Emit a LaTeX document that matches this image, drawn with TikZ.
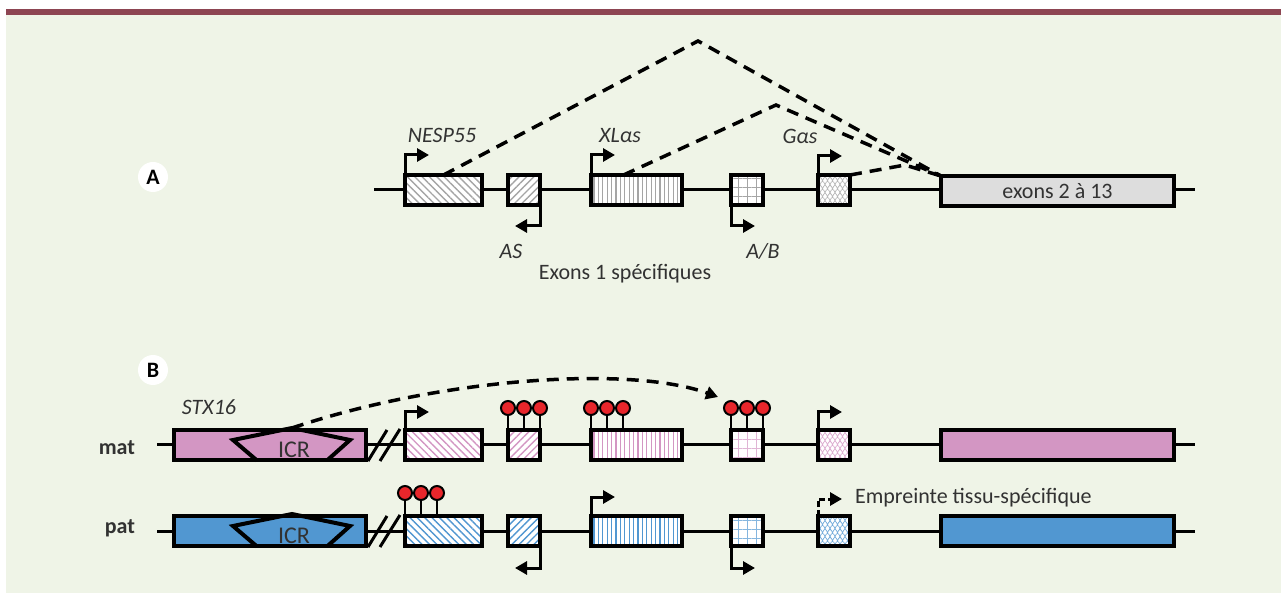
\documentclass[tikz,border=0pt]{standalone}
\usepackage{fontspec}
\setmainfont{Carlito}
\usetikzlibrary{arrows.meta,patterns,patterns.meta}

\definecolor{bggreen}{RGB}{239,244,231}
\definecolor{barred}{RGB}{141,69,82}
\definecolor{matpink}{RGB}{211,150,195}
\definecolor{patblue}{RGB}{81,151,209}
\definecolor{methred}{RGB}{232,38,43}
\definecolor{exgray}{RGB}{221,221,221}
\definecolor{hatchgray}{RGB}{165,165,165}
\definecolor{txt}{RGB}{50,50,50}

\tikzdeclarepattern{
  name=scales,
  type=uncolored,
  bottom left={(-.5pt,-.5pt)},
  top right={(5.5pt,4.5pt)},
  tile size={(5pt,4pt)},
  code={
    \draw[line width=.35pt] (0pt,0pt) .. controls (0.6pt,2.4pt) and (1.9pt,2.4pt) .. (2.5pt,0pt)
      .. controls (3.1pt,2.4pt) and (4.4pt,2.4pt) .. (5pt,0pt);
    \draw[line width=.35pt] (-1.25pt,2pt) .. controls (-0.65pt,4.4pt) and (0.65pt,4.4pt) .. (1.25pt,2pt)
      .. controls (1.85pt,4.4pt) and (3.15pt,4.4pt) .. (3.75pt,2pt)
      .. controls (4.35pt,4.4pt) and (5.65pt,4.4pt) .. (6.25pt,2pt);
  }
}

\begin{document}
\begin{tikzpicture}[x=0.5pt,y=-0.5pt,font=\fontsize{11}{13}\selectfont,
  exon/.style={draw,line width=2pt,inner sep=0pt,outer sep=0pt,minimum height=15pt},
  nespbox/.style={exon,minimum width=38.5pt,preaction={fill=white},pattern={Lines[angle=-45,distance=2.6pt,line width=.7pt]},pattern color=#1},
  asbox/.style={exon,minimum width=16pt,preaction={fill=white},pattern={Lines[angle=45,distance=2.6pt,line width=.7pt]},pattern color=#1},
  xlbox/.style={exon,minimum width=45.5pt,preaction={fill=white},pattern={Lines[angle=90,distance=2.2pt,line width=.6pt]},pattern color=#1},
  abbox/.style={exon,minimum width=16pt,preaction={fill=white},pattern={Hatch[angle=0,distance=4.5pt,line width=.5pt]},pattern color=#1},
  gbox/.style={exon,minimum width=16pt,preaction={fill=white},pattern=scales,pattern color=#1},
  genome/.style={line width=1.5pt},
  prom/.style={line width=1.5pt,-{Triangle[length=6pt,width=6.5pt]}},
  splice/.style={line width=1.75pt,dash pattern=on 6pt off 4pt},
  cpg/.style={circle,draw,line width=1pt,fill=methred,minimum size=7pt,inner sep=0pt},
  stem/.style={line width=1.3pt},
  tag/.style={circle,fill=white,minimum size=15pt,inner sep=0pt,font=\fontsize{11}{13}\bfseries},
  gene/.style={text=txt,font=\fontsize{11}{13}\itshape}]
\useasboundingbox (0,0) rectangle (1281,593);
\fill[white] (0,0) rectangle (1281,593);
\fill[bggreen] (6,9) rectangle (1281,593);
\fill[barred] (6,9) rectangle (1281,15);

% A
\node[tag] (tagA) at (153,177) {A};
\coordinate (a0) at (374,190);
\coordinate (a1) at (1195,190);
\draw[genome] (a0) -- (a1);
\node[nespbox=hatchgray] (nespA) at (443.5,190) {};
\node[asbox=hatchgray]   (asA)   at (524,190) {};
\node[xlbox=hatchgray]   (xlA)   at (636.5,190) {};
\node[abbox=hatchgray]   (abA)   at (747,190) {};
\node[gbox=hatchgray!80] (gA)    at (834,190) {};
\node[exon,minimum width=116.5pt,fill=exgray,text=txt] (exA) at (1057.5,191) {exons 2 à 13};
\draw[prom] (nespA.north west) -- ++(0,-20) -- ++(24,0);
\draw[prom] (asA.south east)   -- ++(0,21)  -- ++(-25,0);
\draw[prom] (xlA.north west)   -- ++(0,-20) -- ++(24,0);
\draw[prom] (abA.south west)   -- ++(0,21)  -- ++(24,0);
\draw[prom] (gA.north west)    -- ++(0,-19) -- ++(24,0);
\node[gene] (nespL) at (442,135) {NESP55};
\node[gene] (xlL)   at (620,136) {XLαs};
\node[gene] (gL)    at (800,136) {Gαs};
\node[gene] (asL)   at (511,251) {AS};
\node[gene] (abL)   at (763,251) {A/B};
\node[text=txt] (firstL) at (625,274) {Exons 1 spécifiques};
\coordinate (peak1) at (698,41);
\coordinate (peak2) at (776,105);
\coordinate (peak3) at (905,165);
\draw[splice] (nespA.north) -- (peak1) -- (exA.north west);
\draw[splice] ([xshift=-6.5pt]xlA.north) -- (peak2) -- (exA.north west);
\draw[splice] (gA.north east) -- (peak3) -- (exA.north west);

% B
\node[tag] (tagB) at (153,370) {B};
\node[gene] (stxL) at (209,407) {STX16};
\node[anchor=base east,font=\fontsize{11}{13}\bfseries,text=txt] (matL) at (142,455) {mat};
\node[anchor=base east,font=\fontsize{11}{13}\bfseries,text=txt] (patL) at (142,533) {pat};
\coordinate (m0) at (157,445);
\coordinate (m1) at (1195,445);
\coordinate (p0) at (157,531);
\coordinate (p1) at (1195,531);
\draw[genome] (m0) -- (m1);
\draw[genome] (p0) -- (p1);

\node[exon,minimum width=96pt,fill=matpink] (stxM) at (270,445) {};
\node[nespbox=matpink] (nespM) at (443.5,445) {};
\node[asbox=matpink]   (asM)   at (524,445) {};
\node[xlbox=matpink]   (xlM)   at (636.5,445) {};
\node[abbox=matpink!70] (abM)  at (747,445) {};
\node[gbox=matpink!80] (gM)    at (834,445) {};
\node[exon,minimum width=116.5pt,fill=matpink] (exM) at (1057.5,445) {};

\node[exon,minimum width=96pt,fill=patblue] (stxP) at (270,531) {};
\node[nespbox=patblue] (nespP) at (443.5,531) {};
\node[asbox=patblue]   (asP)   at (524,531) {};
\node[xlbox=patblue]   (xlP)   at (636.5,531) {};
\node[abbox=patblue!70] (abP)  at (747,531) {};
\node[gbox=patblue!80] (gP)    at (834,531) {};
\node[exon,minimum width=116.5pt,fill=patblue] (exP) at (1057.5,531) {};

% ICR and break
\foreach \cy/\r in {445/M,531/P} {
  \draw[line width=2pt] (257,\cy+15.5) -- (233,\cy-5) -- (292,\cy-17) -- (350,\cy-5) -- (327,\cy+15.5);
  \coordinate (icrtop\r) at (292,\cy-17);
  \node[text=txt,font=\fontsize{12}{14}\selectfont] (icr\r) at (294,\cy+5) {ICR};
  \draw[line width=1.5pt] (368,\cy+16) -- (387,\cy-15);
  \draw[line width=1.5pt] (380,\cy+16) -- (400,\cy-16);
}

% methylation
\foreach \x [count=\i] in {508,524,540} {
  \node[cpg] (cpgAS\i) at (\x,408) {};
  \draw[stem] (cpgAS\i.south) -- (cpgAS\i |- asM.north);
}
\foreach \x [count=\i] in {591,607,623} {
  \node[cpg] (cpgXL\i) at (\x,408) {};
  \draw[stem] (cpgXL\i.south) -- (cpgXL\i |- xlM.north);
}
\foreach \x [count=\i] in {731,747,763} {
  \node[cpg] (cpgAB\i) at (\x,408) {};
  \draw[stem] (cpgAB\i.south) -- (cpgAB\i |- abM.north);
}
\foreach \x [count=\i] in {405,421,437} {
  \node[cpg] (cpgNE\i) at (\x,493) {};
  \draw[stem] (cpgNE\i.south) -- (cpgNE\i |- nespP.north);
}

\coordinate (cpgend) at (718,397);
\draw[splice,-{Triangle[length=6pt,width=6.5pt]}] (icrtopM) .. controls (440,378) and (630,365) .. (cpgend);

\draw[prom] (nespM.north west) -- ++(0,-18) -- ++(24,0);
\draw[prom] (gM.north west)    -- ++(0,-18) -- ++(24,0);
\draw[prom] (xlP.north west)   -- ++(0,-19) -- ++(24,0);
\draw[prom] (asP.south east)   -- ++(0,22)  -- ++(-25,0);
\draw[prom] (abP.south west)   -- ++(0,22)  -- ++(24,0);
\draw[prom,dash pattern=on 3pt off 1.5pt] (gP.north west) -- ++(0,-17) -- ++(24,0);
\node[anchor=west,text=txt] (imprL) at (848,498) {Empreinte tissu-spécifique};
\end{tikzpicture}
\end{document}
